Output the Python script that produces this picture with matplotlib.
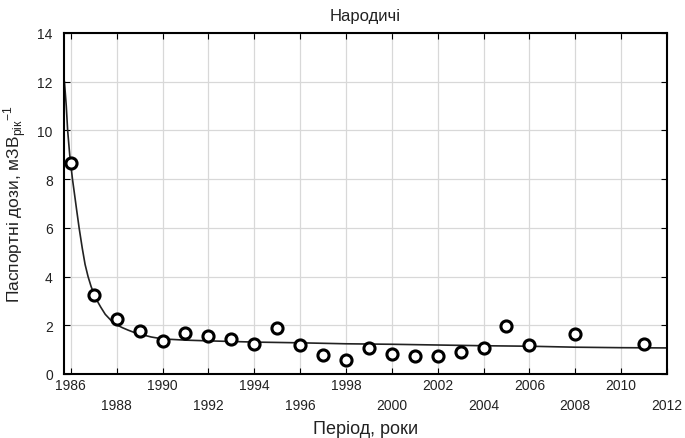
import numpy as np
import matplotlib
matplotlib.use('Agg')
import matplotlib.pyplot as plt

plt.rcParams['font.family'] = ['Liberation Sans', 'DejaVu Sans']

# observed passport doses
years = [1986, 1987, 1988, 1989, 1990, 1991, 1992, 1993, 1994, 1995, 1996,
         1997, 1998, 1999, 2000, 2001, 2002, 2003, 2004, 2005, 2006, 2008, 2011]
doses = [8.66, 3.25, 2.27, 1.77, 1.37, 1.68, 1.56, 1.44, 1.23, 1.89, 1.19,
         0.78, 0.57, 1.07, 0.82, 0.74, 0.74, 0.90, 1.08, 1.97, 1.19, 1.64, 1.23]

# fitted curve
fit_years = [1985.72, 1985.8, 1985.86, 1985.95, 1986.07, 1986.15, 1986.25,
             1986.36, 1986.5, 1986.62, 1986.75, 1986.88, 1987.0, 1987.15,
             1987.3, 1987.5, 1987.75, 1988.0, 1988.25, 1988.5, 1988.75,
             1989.0, 1989.5, 1990, 1991, 1992, 1994, 1996, 1998,
             2000, 2002, 2004, 2006, 2008, 2010, 2012]
fit_doses = [12.0, 11.0, 10.0, 9.0, 8.0, 7.45, 6.75,
             6.0, 5.15, 4.5, 4.0, 3.6, 3.3, 3.0,
             2.75, 2.45, 2.2, 2.02, 1.9, 1.8, 1.71,
             1.64, 1.52, 1.44, 1.39, 1.36, 1.31, 1.28, 1.24,
             1.22, 1.19, 1.16, 1.14, 1.10, 1.08, 1.07]

upper_labels = [1986, 1990, 1994, 1998, 2002, 2006, 2010]
lower_labels = [1988, 1992, 1996, 2000, 2004, 2008, 2012]

fig = plt.figure(figsize=(6.85, 4.39), dpi=100)
ax = fig.add_axes([0.0934, 0.1458, 0.9737 - 0.0934, 0.9226 - 0.1458])

ax.plot(fit_years, fit_doses, color='#222222', lw=1.2, zorder=2)
ax.plot(years, doses, 'o', ms=8, mfc='white', mec='black', mew=2.2, zorder=3)

ax.set_xlim(1985.70, 2011.95)
ax.set_ylim(0, 14)
ax.set_yticks(np.arange(0, 15, 2))
ax.set_xticks(upper_labels)
ax.set_xticks(lower_labels, minor=True)
ax.set_xticklabels([str(y) for y in upper_labels])
ax.set_xticklabels([str(y) for y in lower_labels], minor=True)

ax.grid(True, which='both', color='#d8d8d8', lw=0.9, zorder=0)
ax.set_axisbelow(True)
ax.tick_params(axis='both', which='both', direction='in', length=4,
               top=True, right=True, labelsize=10, labelcolor='#222222',
               width=0.8)
ax.tick_params(axis='x', which='major', pad=3)
ax.tick_params(axis='x', which='minor', pad=17)
ax.tick_params(axis='y', pad=8)
for s in ax.spines.values():
    s.set_linewidth(1.5)
    s.set_color('black')

ax.set_title('Народичі', fontsize=12, pad=9, color='#222222')
ax.set_xlabel('Період, роки', fontsize=13, labelpad=6, color='#222222')
ax.set_ylabel(r'Паспортні дози, мЗВ$_{\mathregular{рік}}{}^{\mathregular{-1}}$',
              fontsize=12.5, labelpad=6, color='#222222')

fig.savefig('out.png', dpi=100)
